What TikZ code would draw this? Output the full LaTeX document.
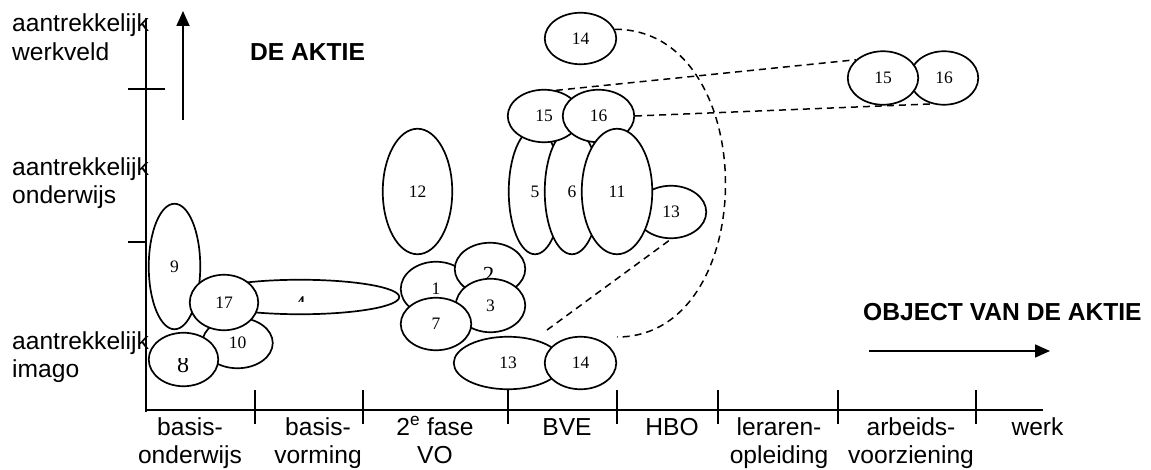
\documentclass[tikz,border=0pt]{standalone}
\usepackage{fontspec}
\setmainfont{Liberation Serif}
\newfontfamily\sansf{Liberation Sans}
\usetikzlibrary{shapes.geometric,arrows.meta}
\tikzset{
  ell/.style={draw, ellipse, fill=white, line width=1.7pt, inner sep=0pt,
    font=\fontsize{17.5}{17.5}\selectfont},
  numlbl/.style={inner sep=0pt},
  axisline/.style={line width=1.8pt},
  dashln/.style={line width=1.5pt, dash pattern=on 7pt off 5pt},
  lbl/.style={font=\sansf\fontsize{24.6}{28.5}\selectfont, inner sep=0pt},
  cat/.style={lbl, align=center, anchor=base},
  side/.style={lbl, align=left, anchor=base west},
  title/.style={lbl, font=\sansf\bfseries\fontsize{24.6}{28.5}\selectfont, anchor=base west},
  arr/.style={line width=1.8pt, -{Triangle[length=15pt,width=13pt]}}
}
\begin{document}
\begin{tikzpicture}[x=1pt,y=-1pt]
\useasboundingbox (0,0) rectangle (1151,470);

% axes
\coordinate (ytop) at (146,18);
\coordinate (ybot) at (146,412);
\coordinate (xstart) at (145,410);
\coordinate (xend) at (1043,410);
\draw[axisline] (ytop) -- (ybot);
\draw[axisline] (xstart) -- (xend);
\draw[axisline] (128,89) -- (165,89);
\draw[axisline] (128,242) -- (147,242);
\foreach \x in {255,363,508,617,718,838,976}
  \draw[axisline] (\x,390) -- (\x,424);

% arrows
\coordinate (ua0) at (183,120);
\coordinate (ua1) at (183,11);
\draw[arr] (ua0) -- (ua1);
\coordinate (ra0) at (869,351);
\coordinate (ra1) at (1050,351);
\draw[arr] (ra0) -- (ra1);

% side labels (base = last line)
\node[side] (sw) at (12,60.5) {aantrekkelijk\\werkveld};
\node[side] (so) at (12,204) {aantrekkelijk\\onderwijs};
\node[side] (si) at (12,377.5) {aantrekkelijk\\imago};
\node[title] (t1) at (250,61) {DE AKTIE};
\node[title] (t2) at (863,320) {OBJECT VAN DE AKTIE};

% category labels
\node[cat] (k1) at (190,463.5) {basis-\\onderwijs};
\node[cat] (k2) at (318,463.5) {basis-\\vorming};
\node[cat] (k3) at (435,463.5) {2\textsuperscript{e} fase\\VO};
\node[cat] (k4) at (567,435) {BVE};
\node[cat] (k5) at (672,435) {HBO};
\node[cat] (k6) at (779,463.5) {leraren-\\opleiding};
\node[cat] (k7) at (911,463.5) {arbeids-\\voorziening};
\node[cat] (k8) at (1037.5,435) {werk};

% ellipses
\node[ell, minimum width=69.5pt, minimum height=125.5pt] (e12) at (417.5,191.5) {12};
\node[ell, minimum width=198.5pt, minimum height=34.5pt] (e4) at (300,297) {};
\begin{scope}
  \clip (280,290) rectangle (320,301.7);
  \node[numlbl, font=\fontsize{24}{24}\selectfont] (l4) at (300,304.8) {4};
\end{scope}
\node[ell, minimum width=51.5pt, minimum height=125.5pt] (e9) at (174.5,266.5) {9};
\node[ell, minimum width=70.5pt, minimum height=50.5pt] (e10) at (237.5,343) {10};
\node[ell, minimum width=69.5pt, minimum height=53.5pt] (e8) at (183.5,359.5) {};
\begin{scope}
  \clip (165,358) rectangle (200,380);
  \node[numlbl, font=\fontsize{24}{24}\selectfont] (l8) at (183,364.5) {8};
\end{scope}
\node[ell, minimum width=68.5pt, minimum height=55.5pt] (e17) at (224,302.5) {17};
\node[ell, minimum width=70.5pt, minimum height=54.5pt] (e1) at (436,289) {1};
\node[ell, minimum width=70.5pt, minimum height=52.5pt] (e2) at (490,269) {};
\node[numlbl, font=\fontsize{23}{23}\selectfont] (l2) at (488.5,274.5) {2};
\node[ell, minimum width=69.5pt, minimum height=53.5pt] (e3) at (490.5,305.5) {3};
\node[ell, minimum width=70.5pt, minimum height=52.5pt] (e7) at (436,324) {7};
\node[ell, minimum width=108.5pt, minimum height=52.5pt] (b13) at (508,363) {13};
\node[ell, minimum width=71.5pt, minimum height=52.5pt] (b14) at (580.5,363) {14};
\node[ell, minimum width=52.5pt, minimum height=125.5pt] (e5) at (535,191.5) {5};
\node[ell, minimum width=54.5pt, minimum height=125.5pt] (e6) at (572,191.5) {6};
\node[ell, minimum width=72.5pt, minimum height=52.5pt] (m15) at (544,116) {15};
\node[ell, minimum width=71.5pt, minimum height=52.5pt] (m16) at (598.5,116) {16};
\node[ell, minimum width=70.5pt, minimum height=52.5pt] (u13) at (671,212) {13};
\node[ell, minimum width=70.5pt, minimum height=125.5pt] (e11) at (617,191.5) {11};
\node[ell, minimum width=71.5pt, minimum height=51.5pt] (t14) at (580.5,38.5) {14};
\node[ell, minimum width=68.5pt, minimum height=53.5pt] (r16) at (944,78) {16};
\node[ell, minimum width=70.5pt, minimum height=53.5pt] (r15) at (883,78) {15};

% dashed connectors
\coordinate (c14) at (617,337);
\draw[dashln] (t14.15) .. controls (762,29) and (762,337) .. (c14);
\coordinate (c13) at (547,330);
\draw[dashln] (c13) -- (u13.south);
\draw[dashln] (m15.65) -- (r15.146);
\draw[dashln] (m16.east) -- (r16.245);
\end{tikzpicture}
\end{document}
